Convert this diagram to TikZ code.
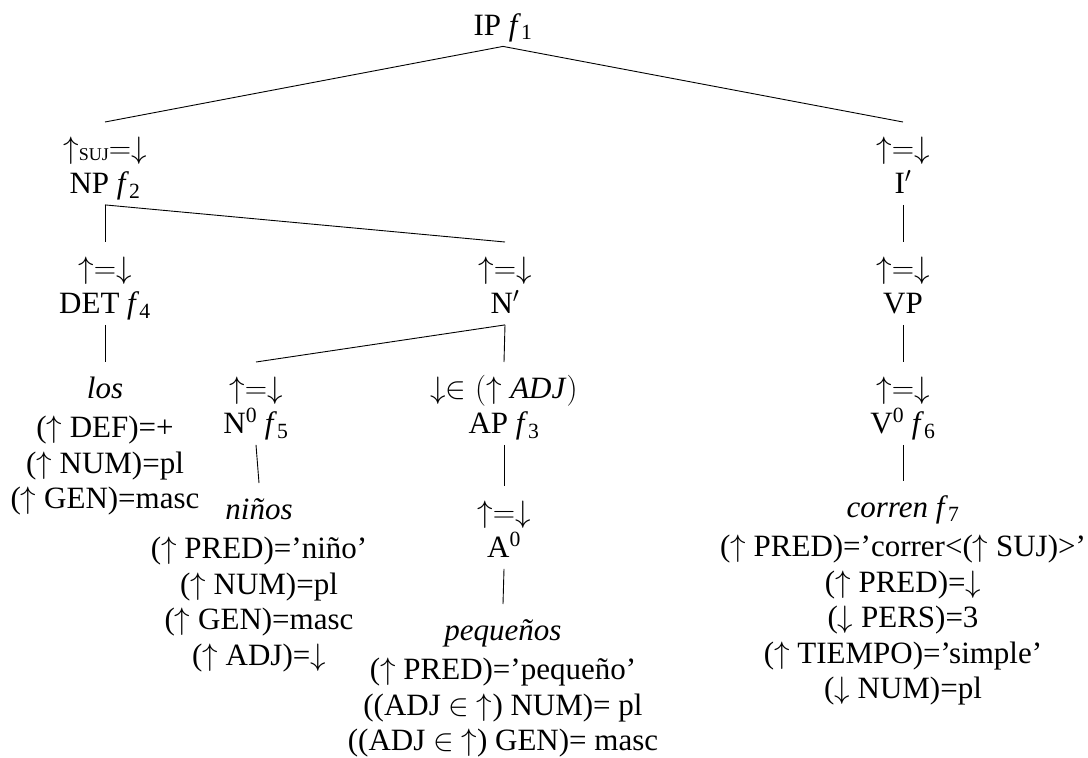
\RequirePackage{fix-cm}
\documentclass[tikz,border=0pt]{standalone}
\usepackage{fontspec}
\setmainfont{Liberation Serif}
\newcommand{\fv}[1]{\textit{f}\textsubscript{#1}}
\newcommand{\upeq}{$\uparrow=\downarrow$}
% fixed first-line height and last-line depth, so that the branch ends sit at known distances from the baselines
\newcommand{\tp}{\rule{0pt}{36pt}}
\newcommand{\bt}{\rule[-11pt]{0pt}{0pt}}
\begin{document}
\begin{tikzpicture}[x=1pt,y=-1pt,
  cat/.style={anchor=north,align=center,inner xsep=0pt,inner ysep=0pt,
    font=\fontsize{31}{35.5}\selectfont},
  branch/.style={line width=0.9pt}]
\useasboundingbox (0,0) rectangle (1088,758);

% tree nodes
\node[cat] (ip)  at (503,9)   {\rule{0pt}{26pt}IP \fv{1}\bt};
\node[cat] (np)  at (105,122) {\tp$\uparrow\mathrel{\mbox{\raisebox{-2pt}{\fontsize{18}{18}\selectfont SUJ}}}=\downarrow$\\ NP \fv{2}\bt};
\node[cat] (ib)  at (903,122) {\tp\upeq\\ I$'$\bt};
\node[cat] (det) at (105,242) {\tp\upeq\\ DET \fv{4}\bt};
\node[cat] (nb)  at (505,242) {\tp\upeq\\ N$'$\bt};
\node[cat] (vp)  at (903,242) {\tp\upeq\\ VP\bt};
\node[cat] (los) at (105,362) {\tp\textit{los}\\[4pt] ($\uparrow$ DEF)=+\\ ($\uparrow$ NUM)=pl\\ ($\uparrow$ GEN)=masc\bt};
\node[cat] (n0)  at (256,362) {\tp\upeq\\ N\textsuperscript{0} \fv{5}\bt};
\node[cat] (ap)  at (504,362) {\tp$\downarrow\in(\uparrow\mbox{\textit{ADJ}})$\\ AP \fv{3}\bt};
\node[cat] (v0)  at (903,362) {\tp\upeq\\ V\textsuperscript{0} \fv{6}\bt};
\node[cat] (nin) at (259,483) {\tp\textit{niños}\\[4pt] ($\uparrow$ PRED)=’niño’\\ ($\uparrow$ NUM)=pl\\ ($\uparrow$ GEN)=masc\\ ($\uparrow$ ADJ)=$\downarrow$\bt};
\node[cat] (a0)  at (504,486) {\tp\upeq\\ A\textsuperscript{0}\bt};
\node[cat] (cor) at (903,481) {\tp\textit{corren} \fv{7}\\[4pt]
  ($\uparrow$ PRED)=’correr<($\uparrow$ SUJ)>’\\
  ($\uparrow$ PRED)=$\downarrow$\\ ($\downarrow$ PERS)=3\\ ($\uparrow$ TIEMPO)=’simple’\\ ($\downarrow$ NUM)=pl\bt};
\node[cat] (peq) at (503,604) {\tp\textit{pequeños}\\[4pt] ($\uparrow$ PRED)=’pequeño’\\ ((ADJ $\in$ $\uparrow$) NUM)= pl\\ ((ADJ $\in$ $\uparrow$) GEN)= masc\bt};

% branches
\draw[branch] (ip.south) -- (np.north);
\draw[branch] (ip.south) -- (ib.north);
\draw[branch] (np.south) -- (det.north);
\draw[branch] (np.south) -- (nb.north);
\draw[branch] (ib.south) -- (vp.north);
\draw[branch] (det.south) -- (los.north);
\draw[branch] (nb.south) -- (n0.north);
\draw[branch] (nb.south) -- (ap.north);
\draw[branch] (vp.south) -- (v0.north);
\draw[branch] (n0.south) -- (nin.north);
\draw[branch] (ap.south) -- (a0.north);
\draw[branch] (v0.south) -- (cor.north);
\draw[branch] (a0.south) -- (peq.north);
\end{tikzpicture}
\end{document}
